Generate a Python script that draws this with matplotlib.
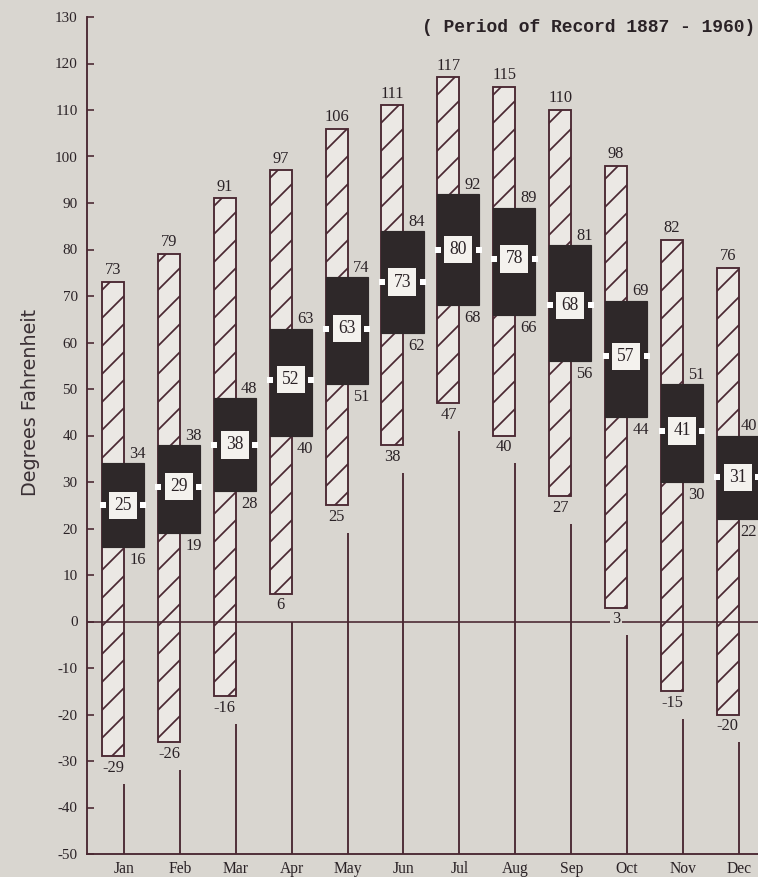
import matplotlib
matplotlib.use("Agg")
import matplotlib.pyplot as plt
import numpy as np

months = ["Jan", "Feb", "Mar", "Apr", "May", "Jun", "Jul", "Aug", "Sep", "Oct", "Nov", "Dec"]
record_high = [73, 79, 91, 97, 106, 111, 117, 115, 110, 98, 82, 76]
record_low = [-29, -26, -16, 6, 25, 38, 47, 40, 27, 3, -15, -20]
mean_max = [34, 38, 48, 63, 74, 84, 92, 89, 81, 69, 51, 40]
mean_min = [16, 19, 28, 40, 51, 62, 68, 66, 56, 44, 30, 22]
mean = [25, 29, 38, 52, 63, 73, 80, 78, 68, 57, 41, 31]
yticks = list(range(-50, 131, 10))

BG = "#d9d6d0"
LINE = "#4a2832"
DARK = "#2e2829"
BARFACE = "#ebe8e4"
TXT = "#2a2226"

DPI = 168
plt.rcParams["hatch.linewidth"] = 0.75
fig = plt.figure(figsize=(758 / DPI, 877 / DPI), dpi=DPI, facecolor=BG)
ax = fig.add_axes([87 / 758, 1 - 854 / 877, (758 - 87) / 758, (854 - 17) / 877])
ax.set_facecolor(BG)

XMIN, XMAX = -0.662, 11.342
x = np.arange(len(months))
hw = 0.394   # hatched bar width (left of month position)
bw = 0.752   # dark box width

serif = "Liberation Serif"

# month vertical lines from bottom up to below record-low label
ax.vlines(x, -50, np.array(record_low) - 6, color=LINE, lw=0.8, zorder=1)

# record range hatched bars
lo = np.array(record_low)
hi = np.array(record_high)
ax.bar(x - hw, hi - lo, bottom=lo, width=hw, align="edge", facecolor=BARFACE,
       edgecolor=LINE, hatch="//", lw=0.8, zorder=2)

# zero line
ax.axhline(0, color=LINE, lw=0.7, zorder=3)

# mean max/min dark boxes
mn = np.array(mean_min)
mx = np.array(mean_max)
ax.bar(x - hw, mx - mn, bottom=mn, width=bw, align="edge", facecolor=DARK,
       edgecolor=DARK, lw=0.5, zorder=4)

# white markers on box edges at mean
ax.scatter(x - hw + 0.01, mean, marker="s", s=5, color="white", zorder=5, lw=0)
ax.scatter(x - hw + bw - 0.01, mean, marker="s", s=5, color="white", zorder=5, lw=0)

for i in range(len(months)):
    cx = x[i] - hw / 2
    ax.annotate(str(record_high[i]), (cx, record_high[i]), xytext=(0, 1.6),
                textcoords="offset points", ha="center", va="bottom",
                family=serif, fontsize=7, color=TXT, zorder=6)
    ax.annotate(str(record_low[i]), (cx, record_low[i]), xytext=(0, -1.6),
                textcoords="offset points", ha="center", va="top",
                family=serif, fontsize=7, color=TXT, zorder=6,
                bbox=dict(boxstyle="square,pad=0.1", facecolor=BG, edgecolor="none"))
    lx = min(x[i] + 0.24, XMAX - 0.17)
    ax.annotate(str(mean_max[i]), (lx, mean_max[i]), xytext=(0, 0.5),
                textcoords="offset points", ha="center", va="bottom",
                family=serif, fontsize=7, color=TXT, zorder=6)
    ax.annotate(str(mean_min[i]), (lx, mean_min[i]), xytext=(0, -2.2),
                textcoords="offset points", ha="center", va="top",
                family=serif, fontsize=7, color=TXT, zorder=6)
    ax.text(x[i] - hw + bw / 2, mean[i], str(mean[i]), ha="center", va="center",
            family=serif, fontsize=7.5, color=TXT, zorder=7,
            bbox=dict(boxstyle="square,pad=0.3", facecolor="#f4f2ee", edgecolor="none"))

ax.set_xlim(XMIN, XMAX)
ax.set_ylim(-50, 130)
ax.set_yticks(yticks)
ax.set_yticklabels([str(v) for v in yticks], family=serif, fontsize=6.5, color=TXT)
ax.set_xticks(x)
ax.set_xticklabels(months, family=serif, fontsize=6.7, color=TXT)
ax.tick_params(axis="y", direction="in", length=3, width=0.7, color=LINE, pad=4)
ax.tick_params(axis="x", length=0, pad=3)
for s in ["top", "right"]:
    ax.spines[s].set_visible(False)
for s in ["left", "bottom"]:
    ax.spines[s].set_color(LINE)
    ax.spines[s].set_linewidth(0.8)
ax.spines["left"].set_zorder(8)

fig.text(31 / 758, 1 - 402 / 877, "Degrees Fahrenheit", rotation=90, ha="center", va="center",
         family="DejaVu Sans", fontsize=8.2, color="#3a3035")
fig.text(755 / 758, 1 - 28 / 877, "( Period of Record 1887 - 1960)", ha="right", va="center",
         family="Liberation Mono", fontweight="bold", fontsize=7.7, color=TXT)

fig.savefig("out.png", dpi=DPI, facecolor=BG)
